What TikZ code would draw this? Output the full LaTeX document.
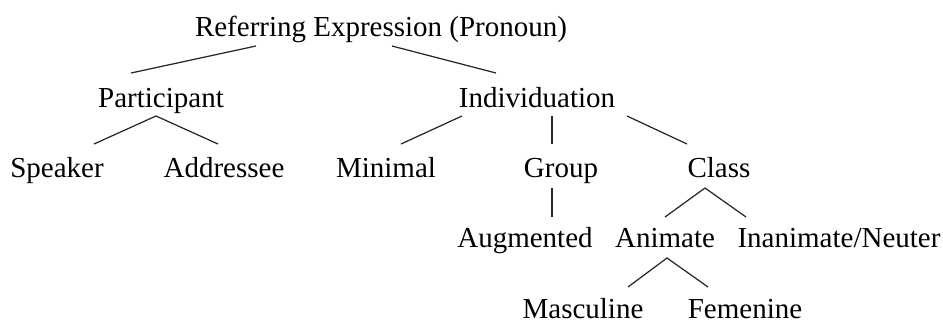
\documentclass[tikz,border=0pt]{standalone}
\usepackage{fontspec}
\setmainfont{Liberation Serif}
\usetikzlibrary{positioning}

\begin{document}
\begin{tikzpicture}[x=0.02cm, y=-0.02cm,
        word/.style={anchor=base, inner sep=0pt, font=\fontsize{16.5}{20}\selectfont},
        branch/.style={line width=0.7pt, black!85}]
        \useasboundingbox (0,0) rectangle (943,322);

        % labels, one row per level
        \node(root) [word] at (381,36) {Referring Expression (Pronoun)};

        \node(part) [word] at (161,107) {Participant};
        \node(indiv) [word] at (537,107) {Individuation};

        \node(speaker) [word] at (57,177) {Speaker};
        \node(addr) [word] at (224,177) {Addressee};
        \node(minimal) [word] at (386,177) {Minimal};
        \node(group) [word] at (561,177) {Group};
        \node(class) [word] at (719,177) {Class};

        \node(augm) [word] at (525,247) {Augmented};
        \node(anim) [word] at (665,247) {Animate};
        \node(inan) [word] at (839,247) {Inanimate/Neuter};

        \node(masc) [word] at (583,318) {Masculine};
        \node(fem) [word] at (745,318) {Femenine};

        % branches
        \draw[branch] ([shift={(-125,10)}]root.base) -- ([shift={(-30,-34)}]part.base);
        \draw[branch] ([shift={(11,10)}]root.base) -- ([shift={(-41,-34)}]indiv.base);

        \draw[branch] ([shift={(37,-33)}]speaker.base) -- ([shift={(-5,9)}]part.base) -- ([shift={(-6,-33)}]addr.base);

        \draw[branch] ([shift={(-75,9)}]indiv.base) -- ([shift={(15,-33)}]minimal.base);
        \draw[branch] ([shift={(15,9)}]indiv.base) -- ([shift={(-9,-33)}]group.base);
        \draw[branch] ([shift={(90,9)}]indiv.base) -- ([shift={(-32,-33)}]class.base);

        \draw[branch] ([shift={(-9,11)}]group.base) -- ([shift={(27,-30)}]augm.base);
        \draw[branch] ([shift={(0,-30)}]anim.base) -- ([shift={(-14,11)}]class.base) -- ([shift={(-93,-30)}]inan.base);
        \draw[branch] ([shift={(45,-31)}]masc.base) -- ([shift={(2,11)}]anim.base) -- ([shift={(-37,-31)}]fem.base);
\end{tikzpicture}
\end{document}
